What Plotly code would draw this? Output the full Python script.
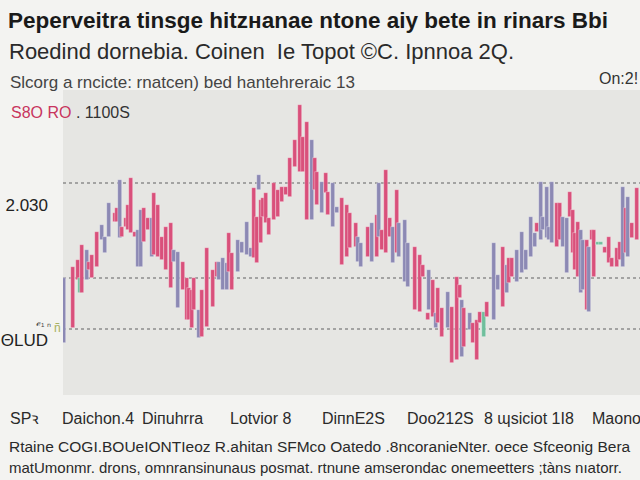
import plotly.graph_objects as go

# ---- data ----
session = [64, 73, 78, 80, 82, 87, 89, 92, 97, 102, 105, 109, 115, 117, 120, 122, 126, 128, 131, 135,
           138, 141, 144, 148, 152, 154, 158, 162, 166, 171, 174, 178, 183, 187, 189, 192, 194, 199, 202,
           207, 213, 217, 219, 223, 227, 229, 232, 238, 242, 247, 251, 254, 257, 259, 261, 263, 266, 269,
           274, 278, 282, 286, 290, 295, 300, 303, 307, 312, 315, 317, 322, 326, 328, 333, 337, 342, 347,
           350, 356, 358, 361, 368, 372, 377, 379, 382, 386, 390, 393, 397, 399, 405, 408, 415, 420, 423,
           428, 429, 433, 436, 438, 442, 448, 452, 457, 460, 462, 464, 470, 473, 477, 480, 484, 487,
           494, 498, 503, 507, 509, 512, 517, 522, 526, 531, 535, 537, 541, 543, 547, 549, 552, 557, 560,
           563, 567, 570, 573, 575, 578, 581, 583, 587, 589, 592, 594, 598, 601, 605, 609, 612, 617, 620,
           623, 626, 628, 632, 637]
high = [1957, 1968, 1975, 1957, 1990, 1985, 1973, 1980, 2003, 2010, 1998, 2032, 2022, 2027, 2055, 2008, 2017, 2030, 2057, 2003,
        2005, 2025, 2027, 2017, 2017, 2042, 2030, 1998, 2008, 2012, 1985, 1983, 1973, 1957, 1947, 1945, 1957, 1925, 1945,
        1987, 1965, 1973, 1973, 1977, 1972, 2002, 1982, 1995, 1993, 2013, 1987, 2047, 2018, 2060, 2035, 2037, 2042, 2017,
        2052, 2045, 2048, 2048, 2077, 2095, 2130, 2098, 2113, 2095, 2077, 2063, 2053, 2062, 2043, 2052, 2028, 2037, 2030,
        2022, 2012, 1998, 1992, 2008, 2012, 2020, 2052, 2005, 2065, 2017, 2008, 2045, 2012, 2015, 1992, 1988, 1980, 1970,
        1922, 1965, 1955, 1922, 1947, 1927, 1943, 1928, 1958, 1950, 1935, 1927, 1922, 1912, 1915, 1923, 1923, 1933,
        1992, 1960, 1988, 1970, 1977, 1977, 1985, 2003, 1985, 2018, 2002, 2012, 2053, 2018, 2048, 2008, 2053, 2032, 2032,
        2018, 2017, 2043, 2025, 2002, 2013, 2005, 1995, 1995, 1988, 2005, 2005, 1993, 1993, 1988, 1998, 1977, 1987, 1993,
        2048, 2027, 2038, 2012, 2047]
low = [1892, 1907, 1955, 1942, 1942, 1955, 1965, 1957, 1968, 1995, 1982, 1998, 2013, 2013, 1997, 1998, 2008, 2005, 2002, 1998,
       1968, 1968, 1993, 2005, 1978, 1980, 1978, 1975, 1965, 1947, 1973, 1927, 1945, 1915, 1915, 1907, 1925, 1897, 1898,
       1908, 1928, 1958, 1955, 1945, 1945, 1963, 1945, 1963, 1982, 1980, 1978, 1977, 1972, 2045, 1992, 2018, 2012, 2000,
       2015, 2018, 2033, 2040, 2038, 2068, 2063, 2063, 2015, 2015, 2045, 2030, 2022, 2042, 2020, 2008, 2022, 1970, 1978,
       1987, 1988, 1973, 1968, 1978, 1973, 1978, 1998, 1985, 1982, 1998, 1972, 1982, 1978, 1953, 1948, 1925, 1923, 1958,
       1915, 1925, 1918, 1907, 1912, 1898, 1907, 1872, 1875, 1937, 1878, 1888, 1905, 1892, 1875, 1912, 1898, 1918,
       1915, 1945, 1928, 1942, 1952, 1958, 1953, 1962, 1965, 1978, 1988, 2003, 1995, 2005, 1997, 1995, 1992, 1988, 1995,
       1988, 1962, 2018, 1982, 1965, 1958, 1942, 1945, 1925, 1923, 1995, 1958, 1990, 1990, 1982, 1972, 1968, 1968, 1975,
       1968, 1982, 1978, 1997, 1995]
direction = list("brrgrbrrrbbbrrbrrrrrbbrrbrrrrrbbrrrrrbr"
                 "rrrbbbrrbbbbrrbrrrrrrrrrrrrrbrrbrrbbrr"
                 "rrbbrbrbrrrbrbbbrrrrbrbrrbrrrbrbrrrgr"
                 "bbrbrrbbbbbrbbbbbrrbbrrrrbbrbrrggrrrrrbrbrr")

guide_levels = [2052, 1957, 1906]
y_tick_vals = [2030, 1895]
y_tick_text = ["2.030", "ΘLUD"]

x_labels = ["SPꝛ", "Daichon.4", "Diпuhrra", "Lotvior 8", "DiпnE2S", "Doo212S", "8 ɰsiciot 1I8", "Maono"]
x_label_pos = [8, 60, 140, 228, 320, 405, 482, 590]

colors = {"r": "#d9507b", "b": "#8c89b4", "g": "#6fbf9c"}

# ---- layout geometry ----
W, H = 640, 480
L, R, T, B = 63, 0, 90, 85
pw, ph = W - L - R, H - T - B


def px(x):
    return (x - L) / pw


def py(y):
    return (H - B - y) / ph


fig = go.Figure()
fig.add_trace(go.Bar(
    x=session,
    y=[h - l for h, l in zip(high, low)],
    base=low,
    width=3.3,
    marker=dict(color=[colors[d] for d in direction],
                line=dict(color="rgba(255,255,255,0.55)", width=0.6)),
    hoverinfo="skip",
))

for g in guide_levels:
    fig.add_shape(type="line", xref="paper", x0=0, x1=1, yref="y", y0=g, y1=g,
                  line=dict(color="#8d8d8d", width=1.4, dash="dot"), layer="below")

ann = []
NARROW = "Liberation Sans Narrow, Arial Narrow, Liberation Sans, sans-serif"


def text(x, y, s, size, color="#222", bold=False, family="Liberation Sans, Arial, sans-serif", anchor="left"):
    ann.append(dict(xref="paper", yref="paper", x=px(x), y=py(y), text=("<b>%s</b>" % s) if bold else s,
                    showarrow=False, xanchor=anchor, yanchor="middle",
                    font=dict(size=size, color=color, family=family)))


text(6, 21, "Peperveitra tinsge hitzнanae ntone aiy bete in rinars Bbi", 22.5, "#1a1a1a", bold=True)
text(7, 51, "Roedind dornebia. Coinen  Ie Topot ©C. Ipnnoa 2Q.", 22, "#2a2a2a")
text(8, 82, "Slcorg a rncicte: rnatcen) bed hantehreraic 13", 17, "#444")
text(640, 78, "On:2!", 16, "#333", anchor="right")
text(9, 112, "<span style='color:#c8355e'>S8O RO</span> . 1100S", 16, "#333")
text(34, 322, "ℯ₁ ₙ", 10, "#444")
text(52, 328, "ñ", 12, "#a8b060")

for lab, xp in zip(x_labels, x_label_pos):
    text(xp, 418, lab, 16, "#2a2a2a", family=NARROW)

text(7, 446, "Rtaine COGI.BOUeIONTIeoz R.ahitan SFMco Oatedo .8ncoranieNter. oece Sfceonig Bera", 15.5, "#2a2a2a",
     family=NARROW)
text(7, 467, "matUmonmr. drons, omnransinunaus posmat. rtnune amserondac onemeetters ;tàns nıatorr.", 15, "#2a2a2a",
     family=NARROW)

fig.update_layout(
    width=W, height=H,
    margin=dict(l=L, r=R, t=T, b=B, pad=0),
    paper_bgcolor="#f3f3f1",
    plot_bgcolor="#e6e6e3",
    showlegend=False,
    barmode="overlay",
    bargap=0,
    annotations=ann,
    xaxis=dict(range=[L, W], showgrid=False, zeroline=False, showticklabels=False, fixedrange=True),
    yaxis=dict(showgrid=False, zeroline=False,
               tickvals=y_tick_vals, ticktext=y_tick_text, ticks="", ticklabelstandoff=14,
               tickfont=dict(size=17, color="#222", family="Liberation Sans, Arial, sans-serif")),
)
# y axis in price units: price = 2235 - pixel row
fig.update_yaxes(range=[2235 - (H - B), 2235 - T])

fig.write_html("out.html")
